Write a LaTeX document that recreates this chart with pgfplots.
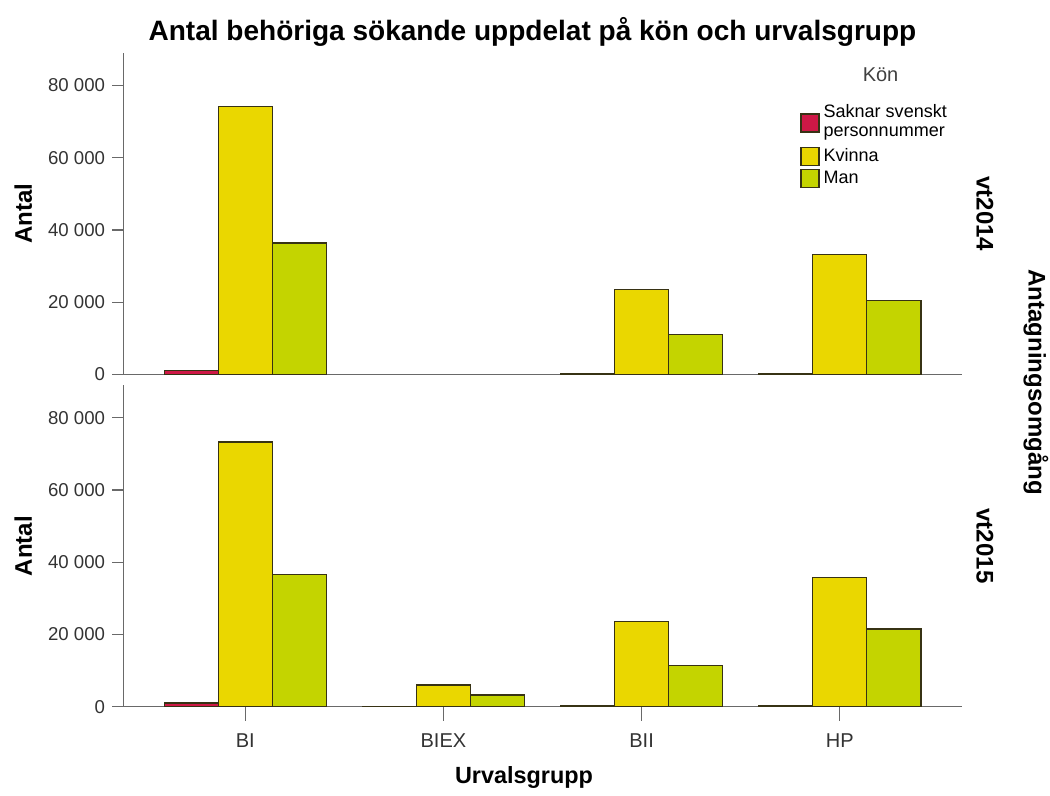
\documentclass[border=0pt]{standalone}
\usepackage{pgfplots}
\pgfplotsset{compat=1.18}
\usepackage{fontspec}
\setmainfont{Liberation Sans}

\definecolor{saknar}{RGB}{206,24,70}
\definecolor{kvinna}{RGB}{234,215,0}
\definecolor{man}{RGB}{196,212,0}
\definecolor{edge}{RGB}{55,50,20}
\definecolor{axisgray}{RGB}{105,105,105}

\tikzset{boldlab/.style={font=\fontsize{12}{14}\selectfont\bfseries, rotate=-90, inner sep=0pt}}

\pgfplotsset{
  panel/.style={
    width=419pt, height=160.5pt, scale only axis,
    ybar=0pt, bar width=27pt,
    xmin=-0.616, xmax=3.616, ymin=0, ymax=89000,
    axis lines=left, axis line style={-, axisgray, line width=0.6pt},
    ytick={0,20000,40000,60000,80000},
    scaled y ticks=false,
    yticklabel style={font=\fontsize{9.3}{11}\selectfont, color=black!80,
      /pgf/number format/.cd, fixed, 1000 sep={\ }, assume math mode=true},
    major tick length=5.5pt, tick align=outside,
    tick style={axisgray, line width=0.6pt},
    ylabel={Antal},
    ylabel style={font=\fontsize{12}{14}\selectfont\bfseries,
      at={(axis description cs:-0.119,0.5)}, anchor=center},
    clip=false,
  },
  bars/.style={draw=edge, line width=0.6pt, fill=#1,
    legend image code/.code={\draw[##1] (0pt,-4.5pt) rectangle (9pt,4.5pt);}},
}

\begin{document}
\begin{tikzpicture}
% vt2014
\begin{axis}[panel, name=top, xtick=\empty,
  legend style={at={(axis description cs:0.807,0.855)}, anchor=north west,
    draw=none, fill=none, inner sep=0pt,
    font=\fontsize{9}{9.5}\selectfont, row sep=-0.8pt},
  legend cell align=left]
\addplot[bars=saknar] coordinates {(0,1100) (2,300) (3,300)};
\addplot[bars=kvinna] coordinates {(0,74100) (2,23500) (3,33200)};
\addplot[bars=man] coordinates {(0,36400) (2,11100) (3,20500)};
\addlegendentry[text depth=]{\begin{tabular}[t]{@{}l@{}}Saknar svenskt\\personnummer\end{tabular}}
\addlegendentry{Kvinna}
\addlegendentry{Man}
\node[font=\fontsize{10}{12}\selectfont, text=black!75] at (axis description cs:0.903,0.932) {Kön};
\node[boldlab] at ([xshift=11.5pt]axis description cs:1,0.5) {vt2014};
\node[font=\fontsize{14}{16}\selectfont\bfseries] at ([yshift=10.5pt]axis description cs:0.488,1) {Antal behöriga sökande uppdelat på kön och urvalsgrupp};
\end{axis}
% vt2015
\begin{axis}[panel, name=bot, at={(top.south west)}, anchor=north west, yshift=-5.5pt,
  xtick={0,1,2,3}, xticklabels={BI,BIEX,BII,HP},
  xtick style={/pgfplots/major tick length=7pt},
  xticklabel style={font=\fontsize{10}{12}\selectfont, color=black!80, yshift=-4.5pt}]
\addplot[bars=saknar] coordinates {(0,1000) (1,150) (2,250) (3,250)};
\addplot[bars=kvinna] coordinates {(0,73300) (1,6000) (2,23500) (3,35800)};
\addplot[bars=man] coordinates {(0,36600) (1,3200) (2,11300) (3,21500)};
\node[boldlab] at ([xshift=11.5pt]axis description cs:1,0.5) {vt2015};
\node[boldlab] at ([xshift=37pt,yshift=1.5pt]axis description cs:1,1) {Antagningsomgång};
\node[font=\fontsize{11.7}{14}\selectfont\bfseries] at ([yshift=-35.5pt]axis description cs:0.478,0) {Urvalsgrupp};
\end{axis}
\path ([xshift=-61.5pt,yshift=26.5pt]top.north west) rectangle ([xshift=44pt,yshift=-43.6pt]bot.south east);
\end{tikzpicture}
\end{document}
